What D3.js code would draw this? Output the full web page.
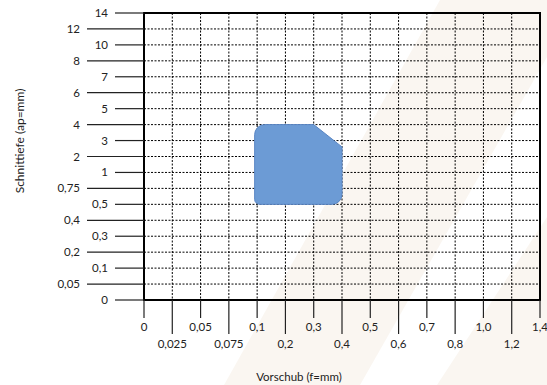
<!DOCTYPE html>
<html>
<head>
<meta charset="utf-8">
<script src="https://cdn.jsdelivr.net/npm/d3@7"></script>
<style>
  html, body { margin: 0; padding: 0; background: #ffffff; }
  svg { display: block; font-family: Lato, "Open Sans", sans-serif; }
</style>
</head>
<body>
<svg id="chart" width="547" height="385"></svg>
<script>
// Feed rate categories (f, mm) along the horizontal axis
const feedLabels = ["0", "0,025", "0,05", "0,075", "0,1", "0,2", "0,3", "0,4", "0,5", "0,6", "0,7", "0,8", "1,0", "1,2", "1,4"];
const feedValues = [0, 0.025, 0.05, 0.075, 0.1, 0.2, 0.3, 0.4, 0.5, 0.6, 0.7, 0.8, 1.0, 1.2, 1.4];

// Depth of cut categories (ap, mm) along the vertical axis, bottom to top
const depthLabels = ["0", "0,05", "0,1", "0,2", "0,3", "0,4", "0,5", "0,75", "1", "2", "3", "4", "5", "6", "7", "8", "10", "12", "14"];
const depthValues = [0, 0.05, 0.1, 0.2, 0.3, 0.4, 0.5, 0.75, 1, 2, 3, 4, 5, 6, 7, 8, 10, 12, 14];

// Recommended working range: outline vertices as [feed, depth]
const rangeFeed  = [0.1, 0.1, 0.3, 0.4, 0.4];
const rangeDepth = [0.5, 4,   4,   2.6, 0.5];

const svg = d3.select("#chart");
const plot = { left: 144, right: 540, top: 13, bottom: 300 };

// Faint diagonal backdrop bands
const bg = svg.append("g").attr("fill", "#faf6f1");
bg.append("path").attr("d", "M440,0 L547,0 L547,57 L360,385 L224,385 Z");
bg.append("path").attr("d", "M547,217 L547,385 L437,385 Z");

// Categories sit evenly; the scales interpolate piecewise between them
const xPos = d3.scalePoint().domain(d3.range(feedValues.length)).range([plot.left, plot.right]);
const yPos = d3.scalePoint().domain(d3.range(depthValues.length)).range([plot.bottom, plot.top]);
const x = d3.scaleLinear().domain(feedValues).range(feedValues.map((_, i) => xPos(i)));
const y = d3.scaleLinear().domain(depthValues).range(depthValues.map((_, i) => yPos(i)));

// Dotted grid
const grid = svg.append("g")
  .attr("stroke", "#000")
  .attr("stroke-width", 1)
  .attr("stroke-dasharray", "2,1.5");
grid.selectAll("line.v").data(feedValues.slice(1, -1)).join("line")
  .attr("x1", d => x(d)).attr("x2", d => x(d))
  .attr("y1", plot.top).attr("y2", plot.bottom);
grid.selectAll("line.h").data(depthValues.slice(1, -1)).join("line")
  .attr("x1", plot.left).attr("x2", plot.right)
  .attr("y1", d => y(d)).attr("y2", d => y(d));

// Working range shape; each corner has its own rounding radius
function roundedPolygon(pts, radii) {
  const p = d3.path();
  const n = pts.length;
  const mid = (a, b) => [(a[0] + b[0]) / 2, (a[1] + b[1]) / 2];
  const start = mid(pts[n - 1], pts[0]);
  p.moveTo(start[0], start[1]);
  for (let i = 0; i < n; i++) {
    const cur = pts[i], next = pts[(i + 1) % n];
    p.arcTo(cur[0], cur[1], next[0], next[1], radii[i]);
  }
  p.closePath();
  return p.toString();
}
const shapePts = rangeFeed.map((f, i) => [x(f) - (f === 0.1 ? 2.5 : 0), y(rangeDepth[i])]);
svg.append("path")
  .attr("d", roundedPolygon(shapePts, [5, 10, 0, 0, 10]))
  .attr("fill", "#6c9bd5")
  .attr("stroke", "#5a86c4")
  .attr("stroke-width", 1);

// Plot frame
svg.append("rect")
  .attr("x", plot.left).attr("y", plot.top)
  .attr("width", plot.right - plot.left).attr("height", plot.bottom - plot.top)
  .attr("fill", "none").attr("stroke", "#000").attr("stroke-width", 2);

// Vertical axis: labels alternate between two columns
const yAxis = svg.append("g").attr("font-size", 11.5).attr("fill", "#222");
depthValues.forEach((v, i) => {
  const inner = (depthValues.length - 1 - i) % 2 === 0; // top label sits in the inner column
  const x0 = inner ? 115 : 87;
  const yy = y(v);
  yAxis.append("line")
    .attr("x1", x0).attr("x2", plot.left)
    .attr("y1", yy).attr("y2", yy)
    .attr("stroke", "#222").attr("stroke-width", 1.2);
  yAxis.append("text")
    .attr("x", inner ? 108 : 80)
    .attr("y", yy)
    .attr("dy", "0.35em")
    .attr("text-anchor", "end")
    .text(depthLabels[i]);
});

// Horizontal axis: labels alternate between two rows
const xAxis = svg.append("g").attr("font-size", 11.5).attr("fill", "#222");
feedValues.forEach((v, i) => {
  const upper = i % 2 === 0;
  const xx = x(v);
  xAxis.append("line")
    .attr("x1", xx).attr("x2", xx)
    .attr("y1", plot.bottom).attr("y2", upper ? 318 : 334)
    .attr("stroke", "#222").attr("stroke-width", 1.2);
  xAxis.append("text")
    .attr("x", xx)
    .attr("y", upper ? 327 : 344)
    .attr("dy", "0.35em")
    .attr("text-anchor", "middle")
    .text(feedLabels[i]);
});

// Axis titles
svg.append("text")
  .attr("x", 299).attr("y", 377).attr("dy", "0.35em")
  .attr("text-anchor", "middle")
  .attr("font-size", 11.5).attr("fill", "#222")
  .text("Vorschub (f=mm)");
svg.append("text")
  .attr("transform", "translate(20,141) rotate(-90)")
  .attr("dy", "0.35em")
  .attr("text-anchor", "middle")
  .attr("font-size", 12).attr("fill", "#222")
  .text("Schnittiefe (ap=mm)");
</script>
</body>
</html>
